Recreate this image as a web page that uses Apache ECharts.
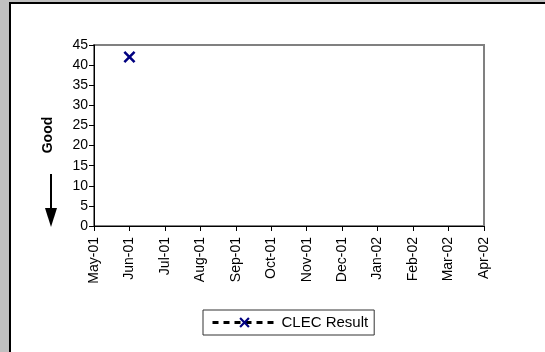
<!DOCTYPE html>
<html>
<head>
<meta charset="utf-8">
<script src="https://cdn.jsdelivr.net/npm/echarts@6/dist/echarts.min.js"></script>
<style>
html,body{margin:0;padding:0;background:#c0c0c0;}
#c{width:545px;height:352px;}
</style>
</head>
<body>
<div id="c"></div>
<script>
const months = ['May-01','Jun-01','Jul-01','Aug-01','Sep-01','Oct-01','Nov-01','Dec-01','Jan-02','Feb-02','Mar-02','Apr-02'];
const clecResult = [null, 42, null, null, null, null, null, null, null, null, null, null];
const yTicks = [0, 45, 5];

const chart = echarts.init(document.getElementById('c'), null, {renderer:'canvas'});
const xPath = 'path://M0,1.5L1.5,0L5,3.5L8.5,0L10,1.5L6.5,5L10,8.5L8.5,10L5,6.5L1.5,10L0,8.5L3.5,5Z';
chart.setOption({
  animation: false,
  backgroundColor: 'transparent',
  textStyle: {fontFamily: 'Liberation Sans, Arial, sans-serif'},
  graphic: [
    {type:'rect', z:-10, shape:{x:10, y:3, width:540, height:355}, style:{fill:'#fff', stroke:'#000', lineWidth:2}},
    {type:'text', x:48, y:135, rotation:Math.PI/2, style:{text:'Good', font:'bold 14px Liberation Sans, Arial', fill:'#000', align:'center', verticalAlign:'middle'}},
    {type:'line', shape:{x1:51, y1:174, x2:51, y2:210}, style:{stroke:'#000', lineWidth:2}},
    {type:'polygon', shape:{points:[[45,208],[57,208],[51,227]]}, style:{fill:'#000'}}
  ],
  grid: {left:94, top:45, width:390, height:181, show:true, borderColor:'#808080', borderWidth:2, backgroundColor:'#fff'},
  legend: {
    left: 203, top: 310,
    padding: [5, 6, 5, 8],
    borderColor: '#333', borderWidth: 1,
    itemWidth: 64, itemHeight: 13, itemGap: 6,
    lineStyle: {type:[6,5], width:3, color:'#000'},
    textStyle: {fontSize: 15, color:'#000'},
    data: ['CLEC Result']
  },
  xAxis: {
    type: 'category', data: months, boundaryGap: false,
    axisLine: {lineStyle:{color:'#000', width:1}},
    axisTick: {length:5, lineStyle:{color:'#000'}},
    axisLabel: {rotate:90, fontSize:14, color:'#000', margin:11, interval:0},
    splitLine: {show:false}
  },
  yAxis: {
    type: 'value', min: yTicks[0], max: yTicks[1], interval: yTicks[2],
    axisLine: {show:true, lineStyle:{color:'#000', width:1}},
    axisTick: {show:true, length:5, lineStyle:{color:'#000'}},
    axisLabel: {fontSize:14, color:'#000', margin:6},
    splitLine: {show:false}
  },
  series: [{
    name: 'CLEC Result', type: 'line', data: clecResult,
    symbol: xPath, symbolSize: 12, showSymbol: true,
    connectNulls: false,
    lineStyle: {color:'#000', type:[6,5], width:3},
    itemStyle: {color:'#000080'}
  }]
});
</script>
</body>
</html>
